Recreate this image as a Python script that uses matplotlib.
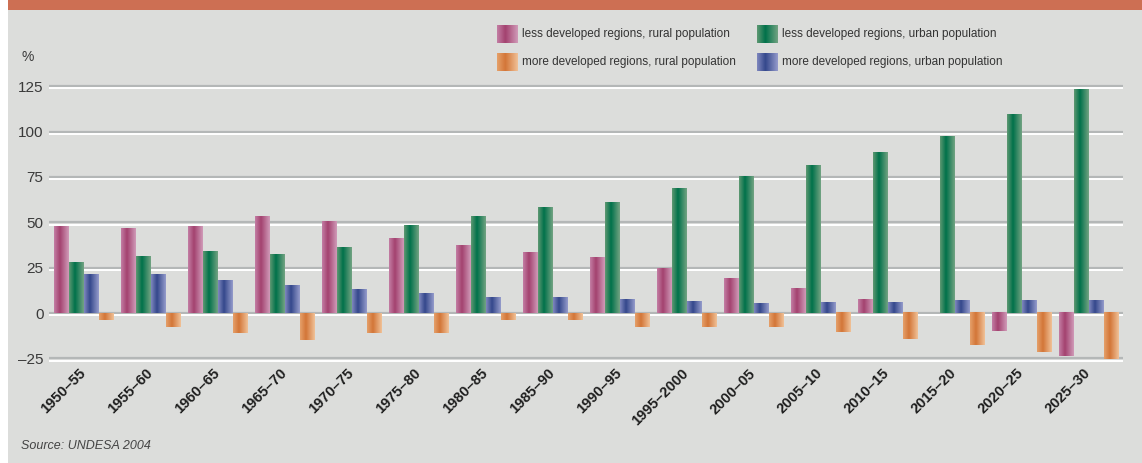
import matplotlib as mpl
import matplotlib.pyplot as plt
import numpy as np
from matplotlib.patches import Rectangle
from matplotlib.transforms import ScaledTranslation

# datos (tasas de crecimiento por periodo, %)
periodos = ['1950–55', '1955–60', '1960–65', '1965–70', '1970–75', '1975–80',
            '1980–85', '1985–90', '1990–95', '1995–2000', '2000–05', '2005–10',
            '2010–15', '2015–20', '2020–25', '2025–30']
menos_rural = [47.5, 46.4, 47.5, 53.0, 50.2, 40.8, 37.0, 33.1, 30.4, 24.3, 18.8,
               13.3, 7.3, 0.0, -10.1, -23.8]
menos_urbana = [27.6, 30.9, 33.7, 32.0, 35.9, 48.0, 53.0, 58.0, 60.7, 68.7, 75.4,
                81.2, 88.3, 97.1, 109.2, 123.4]
mas_urbana = [21.0, 21.0, 17.7, 14.9, 13.2, 11.0, 8.3, 8.3, 7.2, 6.6, 5.5,
              5.6, 5.6, 6.7, 6.7, 6.7]
mas_rural = [-3.7, -7.5, -10.9, -14.7, -10.9, -10.9, -3.7, -3.7, -7.5, -7.5, -7.5,
             -10.6, -14.5, -17.7, -21.6, -25.4]
yticks = [-25, 0, 25, 50, 75, 100, 125]

series = [
    ('less developed regions, rural population', menos_rural,
     ['#c37ea4', '#a3426f', '#d09ab8']),
    ('less developed regions, urban population', menos_urbana,
     ['#5e9872', '#00714a', '#72a382']),
    ('more developed regions, urban population', mas_urbana,
     ['#7f87be', '#34488c', '#959bcb']),
    ('more developed regions, rural population', mas_rural,
     ['#e5a06a', '#d37638', '#f0c197']),
]

plt.rcParams['font.family'] = ['Liberation Sans', 'DejaVu Sans']

W, H = 1142, 463
fig = plt.figure(figsize=(W / 100, H / 100), dpi=100)
fig.patch.set_facecolor('#dcdddb')

# franja blanca izquierda y banda naranja superior
fig.add_artist(Rectangle((0, 0), 8 / W, 1, transform=fig.transFigure,
                         facecolor='white', edgecolor='none', zorder=0))
fig.add_artist(Rectangle((8 / W, 1 - 10 / H), 1, 10 / H, transform=fig.transFigure,
                         facecolor='#cd6f53', edgecolor='none', zorder=0))


def degradado(stops, n=64):
    pos = [0.0, 0.4, 1.0]
    rgb = np.array([mpl.colors.to_rgb(c) for c in stops])
    t = np.linspace(0, 1, n)
    return np.stack([np.interp(t, pos, rgb[:, k]) for k in range(3)], axis=-1)[np.newaxis, :, :]


ax = fig.add_axes([49 / W, (H - 362) / H, (1123 - 49) / W, (362 - 82.6) / H])
ax.set_facecolor('none')

w = 15 / 67
x = np.arange(len(periodos))
for k, (nombre, vals, cols) in enumerate(series):
    bars = ax.bar(x + k * w, vals, w, align='edge', color='none', edgecolor='none', zorder=3)
    img = degradado(cols)
    for r in bars:
        x0, y0 = r.get_x(), r.get_y()
        x1, y1 = x0 + r.get_width(), y0 + r.get_height()
        if y1 == y0:
            continue
        ax.imshow(img, extent=[x0, x1, min(y0, y1), max(y0, y1)], aspect='auto',
                  interpolation='bilinear', zorder=3)

# lineas de rejilla dobles (gris + blanco)
desplazamiento = ScaledTranslation(0, -1.6 / 72, fig.dpi_scale_trans)
for v in yticks:
    ax.axhline(v, color='#b4b7b7', lw=1.6, zorder=1)
    ax.plot([0, 1], [v, v], color='white', lw=1.4, zorder=1,
            transform=ax.get_yaxis_transform() + desplazamiento)

ax.set_xlim(-0.075, 15.955)
ax.set_ylim(-27, 127)
ax.set_yticks(yticks)
ax.set_yticklabels([str(v).replace('-', '–') for v in yticks], fontsize=11, color='#3a3a3a')
ax.set_xticks(x + 2 * w)
ax.set_xticklabels(periodos, rotation=45, ha='right', rotation_mode='anchor',
                   fontsize=10.5, fontweight='bold', color='#1e1e1e')
ax.tick_params(length=0, pad=4)
ax.tick_params(axis='x', pad=6)
corrimiento = ScaledTranslation(-4 / 72, 3 / 72, fig.dpi_scale_trans)
for lab in ax.get_xticklabels():
    lab.set_transform(lab.get_transform() + corrimiento)
for s in ax.spines.values():
    s.set_visible(False)

fig.text(22 / W, 1 - 57 / H, '%', fontsize=10, color='#3a3a3a', va='center')
fig.text(21 / W, 1 - 446 / H, 'Source: UNDESA 2004', fontsize=9, style='italic',
         color='#444444', va='center')

# leyenda manual con degradados
leyenda = [(0, 497, 34), (1, 757, 34), (3, 497, 62), (2, 757, 62)]
for k, px, py in leyenda:
    nombre, vals, cols = series[k]
    lax = fig.add_axes([px / W, 1 - (py + 9.5) / H, 21 / W, 19 / H])
    lax.imshow(degradado(cols), aspect='auto', interpolation='bilinear')
    lax.axis('off')
    fig.text((px + 25) / W, 1 - py / H, nombre, fontsize=8.5, color='#333333', va='center')

plt.savefig('out.png', dpi=100, facecolor=fig.get_facecolor())
